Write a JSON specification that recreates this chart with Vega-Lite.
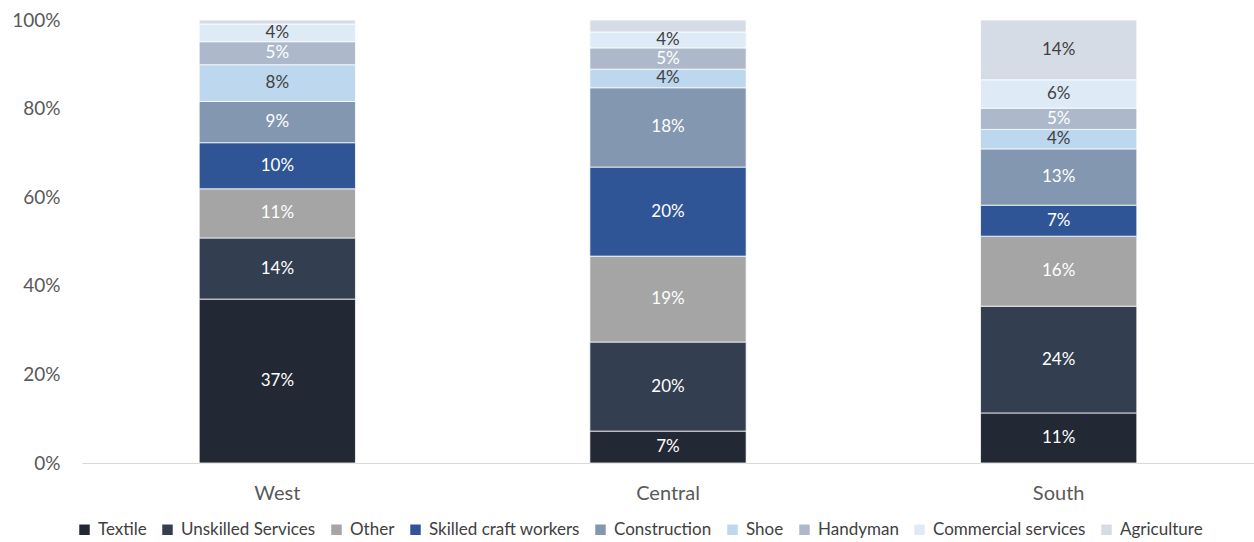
{
  "$schema": "https://vega.github.io/schema/vega-lite/v6.json",
  "width": 1172,
  "height": 443,
  "autosize": {"type": "none"},
  "padding": {"left": 82, "top": 20, "right": 0, "bottom": 79},
  "background": "white",
  "config": {
    "view": {"stroke": null},
    "font": "Lato"
  },
  "data": {
    "values": [
      {"region": "West", "cat": "Textile", "value": 37.0},
      {"region": "West", "cat": "Unskilled Services", "value": 13.8},
      {"region": "West", "cat": "Other", "value": 11.1},
      {"region": "West", "cat": "Skilled craft workers", "value": 10.4},
      {"region": "West", "cat": "Construction", "value": 9.3},
      {"region": "West", "cat": "Shoe", "value": 8.3},
      {"region": "West", "cat": "Handyman", "value": 5.2},
      {"region": "West", "cat": "Commercial services", "value": 4.0},
      {"region": "West", "cat": "Agriculture", "value": 0.9},
      {"region": "Central", "cat": "Textile", "value": 7.2},
      {"region": "Central", "cat": "Unskilled Services", "value": 20.1},
      {"region": "Central", "cat": "Other", "value": 19.4},
      {"region": "Central", "cat": "Skilled craft workers", "value": 20.1},
      {"region": "Central", "cat": "Construction", "value": 17.9},
      {"region": "Central", "cat": "Shoe", "value": 4.2},
      {"region": "Central", "cat": "Handyman", "value": 4.8},
      {"region": "Central", "cat": "Commercial services", "value": 3.6},
      {"region": "Central", "cat": "Agriculture", "value": 2.7},
      {"region": "South", "cat": "Textile", "value": 11.3},
      {"region": "South", "cat": "Unskilled Services", "value": 24.1},
      {"region": "South", "cat": "Other", "value": 15.8},
      {"region": "South", "cat": "Skilled craft workers", "value": 7.0},
      {"region": "South", "cat": "Construction", "value": 12.7},
      {"region": "South", "cat": "Shoe", "value": 4.4},
      {"region": "South", "cat": "Handyman", "value": 4.8},
      {"region": "South", "cat": "Commercial services", "value": 6.4},
      {"region": "South", "cat": "Agriculture", "value": 13.5}
    ]
  },
  "transform": [
    {"calculate": "indexof(['Textile','Unskilled Services','Other','Skilled craft workers','Construction','Shoe','Handyman','Commercial services','Agriculture'], datum.cat)", "as": "ord"},
    {"stack": "value", "groupby": ["region"], "sort": [{"field": "ord", "order": "ascending"}], "as": ["y0", "y1"]},
    {"calculate": "(datum.y0 + datum.y1) / 2", "as": "ymid"},
    {"calculate": "format(datum.value, '.0f') + '%'", "as": "label"}
  ],
  "encoding": {
    "x": {
      "field": "region",
      "type": "nominal",
      "sort": ["West", "Central", "South"],
      "scale": {"paddingInner": 0.6, "paddingOuter": 0.3},
      "axis": {
        "title": null,
        "labelAngle": 0,
        "labelFontSize": 20,
        "labelColor": "#595959",
        "labelPadding": 20,
        "ticks": false,
        "domainColor": "#d9d9d9",
        "domainWidth": 1
      }
    }
  },
  "layer": [
    {
      "mark": {"type": "bar", "stroke": "white", "strokeWidth": 0.75},
      "encoding": {
        "y": {
          "field": "y0",
          "type": "quantitative",
          "scale": {"domain": [0, 100], "nice": false},
          "axis": {
            "title": null,
            "values": [0, 20, 40, 60, 80, 100],
            "labelExpr": "datum.value + '%'",
            "labelFontSize": 19,
            "labelColor": "#595959",
            "labelPadding": 22,
            "ticks": false,
            "domain": false,
            "grid": false
          }
        },
        "y2": {"field": "y1"},
        "color": {
          "field": "cat",
          "type": "nominal",
          "scale": {
            "domain": ["Textile", "Unskilled Services", "Other", "Skilled craft workers", "Construction", "Shoe", "Handyman", "Commercial services", "Agriculture"],
            "range": ["#222834", "#333f50", "#a5a5a5", "#2f5597", "#8497b0", "#bdd7ee", "#adb9ca", "#deebf7", "#d6dce5"]
          },
          "legend": {
            "title": null,
            "orient": "none",
            "direction": "horizontal",
            "legendX": -6,
            "legendY": 501,
            "symbolType": "square",
            "symbolSize": 110,
            "symbolStrokeWidth": 0,
            "labelFontSize": 17,
            "labelLimit": 400,
            "labelColor": "#404040",
            "columnPadding": 12,
            "labelOffset": 5
          }
        }
      }
    },
    {
      "transform": [{"filter": "datum.value >= 3"}],
      "mark": {"type": "text", "fontSize": 17, "baseline": "middle", "align": "center"},
      "encoding": {
        "y": {"field": "ymid", "type": "quantitative"},
        "text": {"field": "label", "type": "nominal"},
        "color": {
          "condition": {"test": "indexof(['Shoe','Commercial services','Agriculture'], datum.cat) >= 0", "value": "#404040"},
          "value": "#ffffff"
        }
      }
    }
  ]
}
